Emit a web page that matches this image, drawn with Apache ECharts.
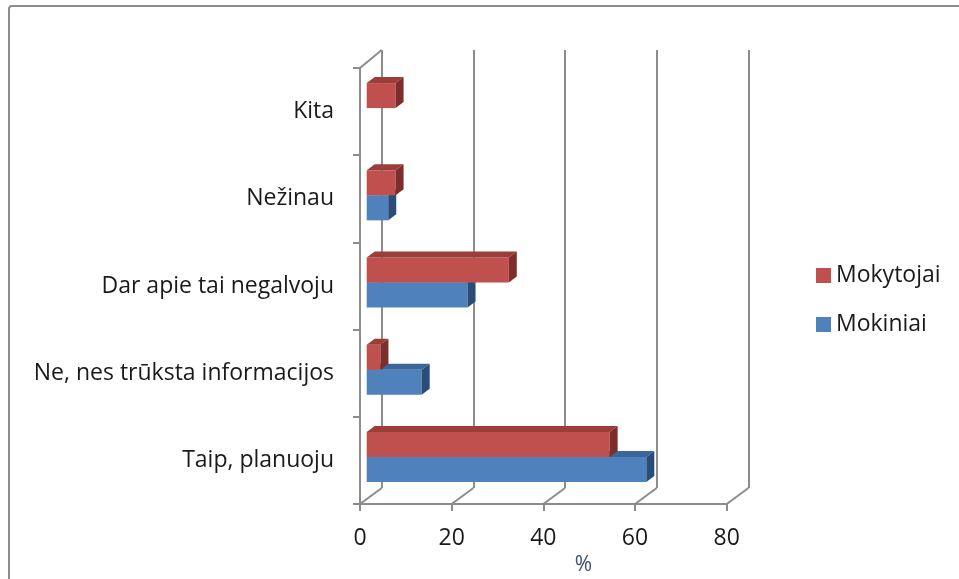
<!DOCTYPE html>
<html>
<head>
<meta charset="utf-8">
<script src="https://cdn.jsdelivr.net/npm/echarts@6/dist/echarts.min.js"></script>
<style>html,body{margin:0;padding:0;background:#fff}#c{width:959px;height:579px}</style>
</head>
<body>
<div id="c"></div>
<script>
// ---- data ----
const categories = ['Taip, planuoju', 'Ne, nes trūksta informacijos', 'Dar apie tai negalvoju', 'Nežinau', 'Kita'];
const mokytojai = [53, 3, 31, 6.3, 6.3];
const mokiniai = [61, 12, 22, 4.7, 0];
const xTicks = [0, 20, 40, 60, 80];
const seriesNames = ['Mokytojai', 'Mokiniai'];

const FONT = '"Open Sans", sans-serif';
const FS = 23;
const GRID_C = '#8c8c8c';
const colors = {
  Mokytojai: { front: '#C0504D', top: '#9C3D3A', side: '#7D2E2B' },
  Mokiniai: { front: '#4F81BD', top: '#3B6699', side: '#2A4D77' }
};
// depth offsets (wall depth and bar depth)
const WALL_DX = 21.7, WALL_DY = 16;
const BAR_SHIFT = 6.7, BAR_DX = 8, BAR_DY = 6;

function boxRenderer(which) {
  const col = colors[which];
  return function (params, api) {
    const v = api.value(0), c = api.value(1);
    if (!(v > 0)) return null;
    const p0 = api.coord([0, c]);
    const p1 = api.coord([v, c]);
    const band = api.size([0, 1])[1];
    const h = band * 0.287;
    const cy = p0[1] - band * 0.04;
    const yT = which === 'Mokytojai' ? cy - h : cy;
    const yB = yT + h;
    const x0 = p0[0] + BAR_SHIFT, x1 = p1[0] + BAR_SHIFT;
    return {
      type: 'group',
      children: [
        { type: 'rect', shape: { x: x0, y: yT, width: x1 - x0, height: h }, style: { fill: col.front } },
        { type: 'polygon', shape: { points: [[x0, yT], [x0 + BAR_DX, yT - BAR_DY], [x1 + BAR_DX, yT - BAR_DY], [x1, yT]] }, style: { fill: col.top } },
        { type: 'polygon', shape: { points: [[x1, yT], [x1 + BAR_DX, yT - BAR_DY], [x1 + BAR_DX, yB - BAR_DY], [x1, yB]] }, style: { fill: col.side } }
      ]
    };
  };
}

// wall/floor connector lines (decoration of the axes)
function wallRenderer(params, api) {
  const v = api.value(0);
  const cs = params.coordSys;
  const x = api.coord([v, 0])[0];
  const yb = cs.y + cs.height;
  const children = [
    { type: 'line', shape: { x1: x, y1: yb, x2: x + WALL_DX, y2: yb - WALL_DY }, style: { stroke: GRID_C, lineWidth: 2 } }
  ];
  if (v === 0) {
    children.push({ type: 'line', shape: { x1: x, y1: cs.y, x2: x + WALL_DX, y2: cs.y - WALL_DY - 2 }, style: { stroke: GRID_C, lineWidth: 2 } });
  }
  return { type: 'group', children };
}

const chart = echarts.init(document.getElementById('c'));
chart.setOption({
  animation: false,
  backgroundColor: '#fff',
  graphic: [{
    type: 'rect', shape: { x: 9, y: 6, width: 1000, height: 700, r: 3 },
    style: { fill: 'none', stroke: GRID_C, lineWidth: 2 }, silent: true, z: -10
  }],
  legend: {
    data: seriesNames,
    orient: 'vertical',
    left: 811, top: 259,
    icon: 'rect', itemWidth: 15, itemHeight: 15, itemGap: 26,
    textStyle: { fontFamily: FONT, fontSize: FS, color: '#1a1a1a' }
  },
  grid: [
    { left: 360, top: 68, width: 366.7, height: 436, outerBoundsMode: 'none', containLabel: false },
    { left: 381.7, top: 50, width: 366.7, height: 438, outerBoundsMode: 'none', containLabel: false }
  ],
  xAxis: [
    {
      gridIndex: 0, type: 'value', min: 0, max: 80, interval: 20,
      axisLine: { show: true, lineStyle: { color: GRID_C, width: 2 } },
      axisTick: { show: true, length: 7, lineStyle: { color: GRID_C, width: 2 } },
      splitLine: { show: false },
      axisLabel: { fontFamily: FONT, fontSize: FS, color: '#1a1a1a', margin: 23 },
      name: '%', nameLocation: 'middle', nameGap: 51,
      nameTextStyle: { fontFamily: FONT, fontSize: 21, color: '#3b4f73', padding: [0, 0, 0, 80] }
    },
    {
      gridIndex: 1, type: 'value', min: 0, max: 80, interval: 20,
      axisLine: { show: false }, axisTick: { show: false }, axisLabel: { show: false },
      splitLine: { show: true, lineStyle: { color: GRID_C, width: 2 } }
    }
  ],
  yAxis: [
    {
      gridIndex: 0, type: 'category', data: categories,
      axisLine: { show: true, lineStyle: { color: GRID_C, width: 2 } },
      axisTick: { show: true, length: 7, lineStyle: { color: GRID_C, width: 2 } },
      axisLabel: { fontFamily: FONT, fontSize: FS, color: '#1a1a1a', margin: 26 }
    },
    {
      gridIndex: 1, type: 'category', data: categories,
      axisLine: { show: false }, axisTick: { show: false }, axisLabel: { show: false }
    }
  ],
  series: [
    {
      name: 'walls', type: 'custom', xAxisIndex: 0, yAxisIndex: 0,
      data: xTicks.map(v => [v]), encode: { x: 0 }, renderItem: wallRenderer, silent: true, z: 1
    },
    {
      name: 'Mokiniai', type: 'custom', xAxisIndex: 0, yAxisIndex: 0,
      itemStyle: { color: colors.Mokiniai.front },
      data: mokiniai.map((v, i) => [v, i]), encode: { x: 0, y: 1 },
      renderItem: boxRenderer('Mokiniai'), z: 3
    },
    {
      name: 'Mokytojai', type: 'custom', xAxisIndex: 0, yAxisIndex: 0,
      itemStyle: { color: colors.Mokytojai.front },
      data: mokytojai.map((v, i) => [v, i]), encode: { x: 0, y: 1 },
      renderItem: boxRenderer('Mokytojai'), z: 4
    }
  ]
});
</script>
</body>
</html>
